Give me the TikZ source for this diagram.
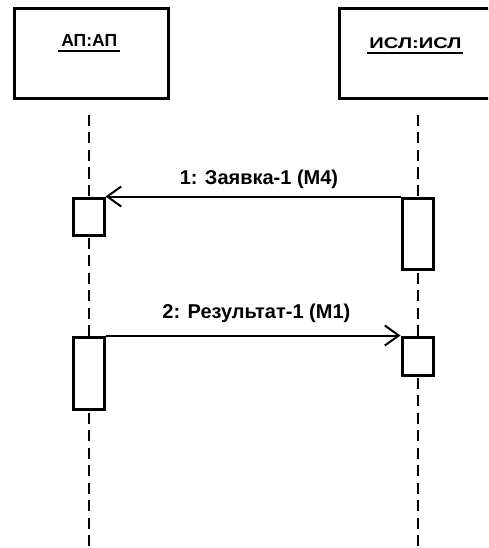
\documentclass[tikz,border=0pt]{standalone}
\usepackage{fontspec}
\usepackage{graphicx}
\setmainfont{Liberation Sans}
\usetikzlibrary{arrows.meta}
\begin{document}
\begin{tikzpicture}[x=1pt,y=-1pt,
  objbox/.style={draw,line width=3pt,inner sep=0pt},
  actbox/.style={draw,fill=white,line width=3pt,inner sep=0pt},
  lifeline/.style={line width=2pt,dash pattern=on 11pt off 6.5pt},
  msg/.style={line width=2pt,-{Straight Barb[length=14pt,width=20pt,line width=2pt]}},
  lbl/.style={font=\fontsize{20}{23}\selectfont\bfseries,inner sep=0pt,anchor=base},
  ttl/.style={font=\fontsize{17.5}{20}\selectfont\bfseries,inner sep=0pt,anchor=base},
  uline/.style={line width=2.5pt}
]
\useasboundingbox (0,0) rectangle (488,548);
\begin{scope}
\clip (0,0) rectangle (488,548);
% object boxes
\draw[objbox] (14,9) rectangle (168,99);
\draw[objbox] (339,9) rectangle (495,99);
\node[ttl] (tA) at (89.2,46.7) {АП:АП};
\node[ttl,font=\fontsize{15.5}{18}\selectfont\bfseries] (tB) at (415.5,48.3) {\scalebox{1.3}[1]{ИСЛ:ИСЛ}};
\draw[uline] ([xshift=-3pt,yshift=-4.5pt]tA.base west) -- ([xshift=3pt,yshift=-4.5pt]tA.base east);
\draw[uline] ([xshift=-2pt,yshift=-4.5pt]tB.base west) -- ([xshift=1pt,yshift=-4.5pt]tB.base east);
% lifelines
\coordinate (lAt) at (89,115);
\coordinate (lAb) at (89,552);
\coordinate (lBt) at (418,115);
\coordinate (lBb) at (418,552);
\draw[lifeline] (lAt) -- (lAb);
\draw[lifeline] (lBt) -- (lBb);
% activations
\node[actbox,minimum width=31pt,minimum height=37pt] (a1) at (88.5,216.5) {};
\node[actbox,minimum width=31pt,minimum height=71pt] (b1) at (417.5,233.5) {};
\node[actbox,minimum width=31pt,minimum height=72pt] (a2) at (88.5,373) {};
\node[actbox,minimum width=31pt,minimum height=38pt] (b2) at (417.5,356) {};
% messages
\draw[msg] (b1.north west) -- (a1.north east);
\draw[msg] (a2.north east) -- (b2.north west);
\node[lbl] (m1) at (259,184) {1: Заявка-1 (М4)};
\node[lbl] (m2) at (256.4,318.3) {2: Результат-1 (М1)};
\end{scope}
\end{tikzpicture}
\end{document}
